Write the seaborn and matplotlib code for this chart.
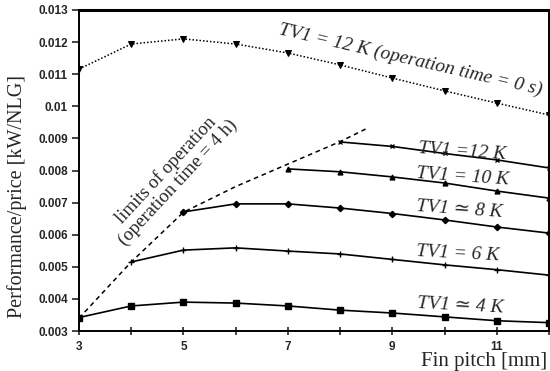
import numpy as np
import pandas as pd
import matplotlib
matplotlib.use("Agg")
import matplotlib.pyplot as plt
import seaborn as sns

# fin pitch [mm] for each curve
x_0s = [3, 4, 5, 6, 7, 8, 9, 10, 11, 12]
x_12k = [8, 9, 10, 11, 12]
x_10k = [7, 8, 9, 10, 11, 12]
x_8k = [5, 6, 7, 8, 9, 10, 11, 12]
x_6k = [4, 5, 6, 7, 8, 9, 10, 11, 12]
x_4k = [3, 4, 5, 6, 7, 8, 9, 10, 11, 12]
x_limit = [3, 4, 5, 6, 7, 8, 8.5]

# performance/price [kW/NLG]
y_0s = [0.01116, 0.01194, 0.0121, 0.01194, 0.01166, 0.01129, 0.01088, 0.01048, 0.0101, 0.00973]
y_12k = [0.00889, 0.00875, 0.00853, 0.00833, 0.00808]
y_10k = [0.00805, 0.00796, 0.0078, 0.00761, 0.00736, 0.00714]
y_8k = [0.00671, 0.00696, 0.00696, 0.00683, 0.00666, 0.00646, 0.00624, 0.00605]
y_6k = [0.00515, 0.00552, 0.00559, 0.00549, 0.0054, 0.00523, 0.00506, 0.00491, 0.00474]
y_4k = [0.00342, 0.00378, 0.0039, 0.00387, 0.00378, 0.00365, 0.00356, 0.00344, 0.00332, 0.00326]
y_limit = [0.0034, 0.00515, 0.0067, 0.0075, 0.0082, 0.0089, 0.0093]

y_ticks = [0.003, 0.004, 0.005, 0.006, 0.007, 0.008, 0.009, 0.01, 0.011, 0.012, 0.013]
y_tick_labels = ['0.003', '0.004', '0.005', '0.006', '0.007', '0.008', '0.009',
                 '0.01', '0.011', '0.012', '0.013']
x_ticks = [3, 4, 5, 6, 7, 8, 9, 10, 11, 12]
x_tick_labels = ['3', '', '5', '', '7', '', '9', '', '11', '']

sns.set_style("ticks")
plt.rcParams['font.family'] = ['Liberation Serif', 'DejaVu Serif']

fig = plt.figure(figsize=(5.5, 3.71), dpi=100)
ax = fig.add_axes([79 / 550, 1 - 331 / 371, 470 / 550, 321 / 371])

# solid curves for different TV1 values
solid = [(x_12k, y_12k, 'x', 3.5), (x_10k, y_10k, '^', 3.5), (x_8k, y_8k, 'D', 3.2),
         (x_6k, y_6k, '+', 5), (x_4k, y_4k, 's', 4.5)]
for xs, ys, mk, ms in solid:
    sns.lineplot(x=xs, y=ys, ax=ax, color='black', linewidth=1.2,
                 marker=mk, markersize=ms, markeredgecolor='black', markeredgewidth=1)

# operation time = 0 s (dotted)
sns.lineplot(x=x_0s, y=y_0s, ax=ax, color='black', linewidth=1.1, linestyle=(0, (1, 1.3)),
             marker='v', markersize=4.5, markeredgecolor='black')

# limits of operation (dashed)
sns.lineplot(x=x_limit, y=y_limit, ax=ax, color='black', linewidth=1.1, linestyle=(0, (3, 2.5)))

ax.set_xlim(3, 12)
ax.set_ylim(0.003, 0.013)
ax.set_xticks(x_ticks)
ax.set_xticklabels(x_tick_labels)
ax.set_yticks(y_ticks)
ax.set_yticklabels(y_tick_labels)
for lab in ax.get_xticklabels() + ax.get_yticklabels():
    lab.set_fontfamily('Liberation Sans')
    lab.set_fontweight('bold')
    lab.set_fontsize(8.5)
ax.tick_params(axis='x', direction='inout', length=6, width=1.2, pad=4)
ax.tick_params(axis='y', direction='out', length=5, width=1.2, pad=3)
for sp in ax.spines.values():
    sp.set_visible(True)
    sp.set_linewidth(1.4)
    sp.set_color('black')
ax.spines['top'].set_linewidth(2.2)

ax.set_ylabel('Performance/price [kW/NLG]', fontsize=14.5)
ax.yaxis.set_label_coords(-0.11, 0.42)
ax.set_xlabel('Fin pitch [mm]', fontsize=15, ha='right')
ax.xaxis.set_label_coords(0.995, -0.065)

lab_kw = dict(fontsize=14, style='italic', ha='center', va='center')
ax.text(9.34, 0.01144, 'TV1 = 12 K (operation time = 0 s)', rotation=-13, **lab_kw)
ax.text(10.34, 0.00858, 'TV1 =12 K', rotation=-4, **lab_kw)
ax.text(10.34, 0.00781, 'TV1 = 10 K', rotation=-4, **lab_kw)
ax.text(10.28, 0.0068, 'TV1 \u2243 8 K', rotation=-4, **lab_kw)
ax.text(10.26, 0.0054, 'TV1 = 6 K', rotation=-3, **lab_kw)
ax.text(10.3, 0.00378, 'TV1 \u2243 4 K', rotation=-3, **lab_kw)
ax.text(4.78, 0.00782, 'limits of operation\n(operation time = 4 h)', rotation=47,
        fontsize=13.5, ha='center', va='center', linespacing=1.0)

fig.savefig('out.png', dpi=100)
